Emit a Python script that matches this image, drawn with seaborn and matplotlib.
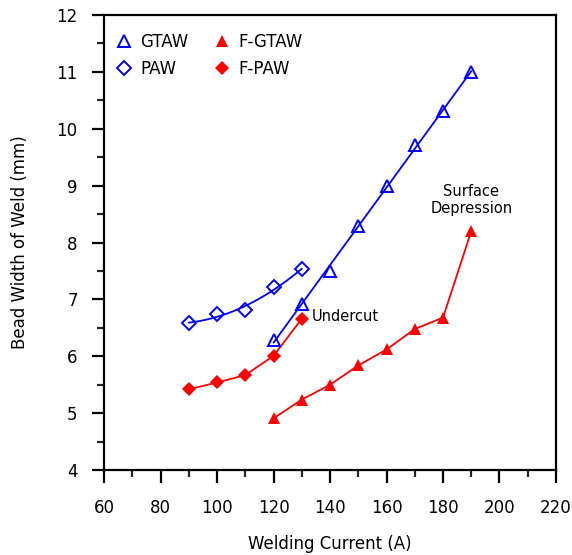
import numpy as np
import pandas as pd
import matplotlib
matplotlib.use("Agg")
import matplotlib.pyplot as plt
import seaborn as sns
from matplotlib.lines import Line2D
from matplotlib.ticker import MultipleLocator

# data
gtaw_current = [120, 130, 140, 150, 160, 170, 180, 190]
gtaw_width = [6.29, 6.92, 7.50, 8.29, 8.99, 9.71, 10.31, 11.00]

paw_current = [90, 100, 110, 120, 130]
paw_width = [6.58, 6.74, 6.82, 7.21, 7.53]

fgtaw_current = [120, 130, 140, 150, 160, 170, 180, 190]
fgtaw_width = [4.91, 5.24, 5.50, 5.84, 6.12, 6.48, 6.68, 8.20]

fpaw_current = [90, 100, 110, 120, 130]
fpaw_width = [5.42, 5.54, 5.67, 6.01, 6.66]

BLUE = "#0000ff"
RED = "#ff0000"

sns.set_style("ticks")
plt.rcParams['font.family'] = ['DejaVu Sans']
plt.rcParams['text.color'] = 'black'
plt.rcParams['axes.labelcolor'] = 'black'

fig = plt.figure(figsize=(5.72, 5.55), dpi=100)
ax = fig.add_axes([0.182, 0.153, 0.79, 0.82])

gtaw = pd.DataFrame({'x': gtaw_current, 'y': gtaw_width})
paw = pd.DataFrame({'x': paw_current, 'y': paw_width})
fgtaw = pd.DataFrame({'x': fgtaw_current, 'y': fgtaw_width})
fpaw = pd.DataFrame({'x': fpaw_current, 'y': fpaw_width})

# fitted lines for the plain processes
sns.regplot(data=gtaw, x='x', y='y', ci=None, scatter=False, color=BLUE,
            line_kws={'lw': 1.3}, ax=ax)
sns.regplot(data=paw, x='x', y='y', order=2, ci=None, scatter=False, color=BLUE,
            line_kws={'lw': 1.3}, ax=ax)

# open markers
ax.plot(gtaw['x'], gtaw['y'], ls='none', marker='^', ms=9, mfc='none',
        mec=BLUE, mew=1.4, zorder=4)
ax.plot(paw['x'], paw['y'], ls='none', marker='D', ms=7, mfc='none',
        mec=BLUE, mew=1.4, zorder=4)

# flux-assisted series, connected points
sns.lineplot(data=fgtaw, x='x', y='y', color=RED, lw=1.3, marker='^',
             markersize=9, markeredgewidth=0, ax=ax)
sns.lineplot(data=fpaw, x='x', y='y', color=RED, lw=1.3, marker='D',
             markersize=7, markeredgewidth=0, ax=ax)

ax.set_xlim(60, 220)
ax.set_ylim(4, 12)
ax.xaxis.set_major_locator(MultipleLocator(20))
ax.xaxis.set_minor_locator(MultipleLocator(10))
ax.yaxis.set_major_locator(MultipleLocator(1))
ax.yaxis.set_minor_locator(MultipleLocator(0.5))
ax.tick_params(which='major', direction='out', length=9, width=1.6,
               labelsize=12, colors='black')
ax.tick_params(axis='x', which='major', pad=12)
ax.tick_params(axis='y', which='major', pad=10)
ax.tick_params(which='minor', direction='out', length=5, width=1.6)
for s in ax.spines.values():
    s.set_linewidth(1.6)
    s.set_color('black')

ax.set_xlabel('Welding Current (A)', fontsize=12, labelpad=13)
ax.set_ylabel('Bead Width of Weld (mm)', fontsize=12, labelpad=20)

ax.text(133.5, 6.7, 'Undercut', fontsize=10.5, va='center', ha='left')
ax.text(190, 8.75, 'Surface\nDepression', fontsize=10.5, va='center', ha='center',
        linespacing=1.15)

handles = [
    Line2D([], [], ls='none', marker='^', ms=9, mfc='none', mec=BLUE, mew=1.4),
    Line2D([], [], ls='none', marker='D', ms=7, mfc='none', mec=BLUE, mew=1.4),
    Line2D([], [], ls='none', marker='^', ms=9, color=RED, mew=0),
    Line2D([], [], ls='none', marker='D', ms=7, color=RED, mew=0),
]
labels = ['GTAW', 'PAW', 'F-GTAW', 'F-PAW']
ax.legend(handles, labels, ncol=2, loc='upper left', frameon=False,
          fontsize=12, handlelength=1.0, handletextpad=0.5,
          columnspacing=1.5, labelspacing=0.55, borderaxespad=0.0,
          bbox_to_anchor=(0.01, 0.975))

fig.savefig('out.png', dpi=100)
